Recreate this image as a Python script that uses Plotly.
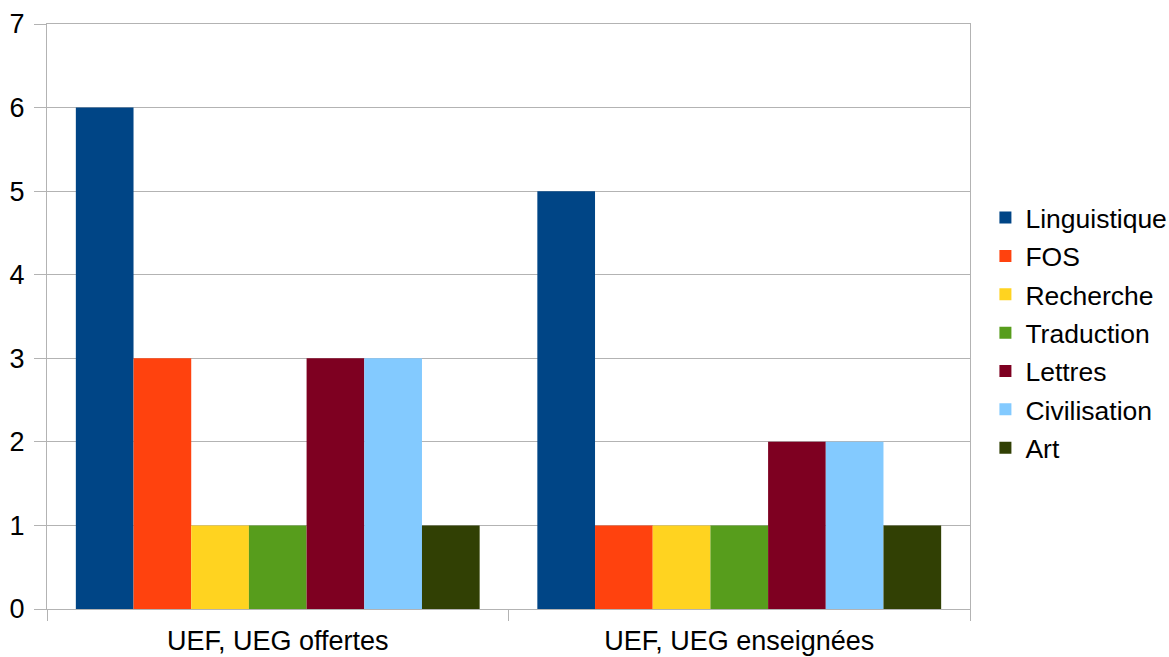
import plotly.graph_objects as go

categories = ["UEF, UEG offertes", "UEF, UEG enseignées"]
series_names = ["Linguistique", "FOS", "Recherche", "Traduction", "Lettres", "Civilisation", "Art"]
linguistique = [6, 5]
fos = [3, 1]
recherche = [1, 1]
traduction = [1, 1]
lettres = [3, 2]
civilisation = [3, 2]
art = [1, 1]
series_values = [linguistique, fos, recherche, traduction, lettres, civilisation, art]
colors = ["#004586", "#ff420e", "#ffd320", "#579d1c", "#7e0021", "#83caff", "#314004"]
y_ticks = [0, 1, 2, 3, 4, 5, 6, 7]

fig = go.Figure()
for i, (name, vals, col) in enumerate(zip(series_names, series_values, colors)):
    fig.add_trace(go.Bar(
        x=categories, y=vals, name=name,
        marker=dict(color=col, line=dict(width=0)),
        legendgroup=name,
    ))

grid = "#b3b3b3"
fig.update_layout(
    width=1169, height=657,
    margin=dict(l=47, r=199, t=24, b=48, autoexpand=False),
    barmode="group", bargap=0.125, bargroupgap=0,
    plot_bgcolor="white", paper_bgcolor="white",
    font=dict(family="Liberation Sans, Arial, sans-serif", size=26, color="black"),
    showlegend=True,
    legend=dict(
        x=1.0167, xanchor="left", y=0.472, yanchor="middle",
        font=dict(size=26.5), traceorder="grouped", tracegroupgap=0.9,
        bgcolor="rgba(0,0,0,0)",
    ),
)
fig.update_xaxes(
    type="category", tickson="boundaries", ticks="outside", ticklen=11,
    tickcolor=grid, showline=True, linecolor=grid, linewidth=1, mirror=True,
    showgrid=False, tickfont=dict(size=27), automargin=False,
    ticklabelstandoff=8,
)
fig.update_yaxes(
    range=[0, 7], tickvals=y_ticks, ticks="outside", ticklen=12, tickcolor=grid,
    showgrid=True, gridcolor=grid, gridwidth=1, zeroline=False,
    showline=True, linecolor=grid, linewidth=1, mirror=True,
    tickfont=dict(size=27), ticklabelstandoff=4, automargin=False,
)
fig.write_html(
    "out.html",
    config={"displayModeBar": False},
    post_script="document.body.style.margin='0';document.body.style.overflow='hidden';",
)
